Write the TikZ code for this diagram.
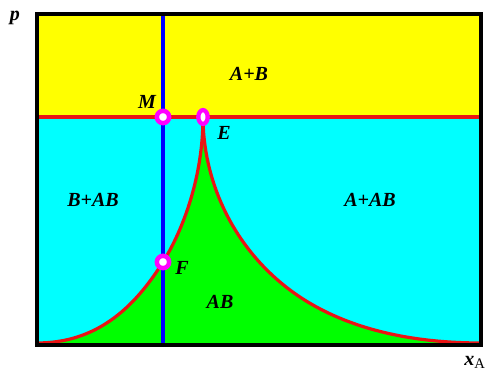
\documentclass[tikz,border=0pt]{standalone}
\usepackage{fontspec}
\setmainfont{Liberation Serif}
\usetikzlibrary{shapes.geometric}
\definecolor{yel}{RGB}{255,255,0}
\definecolor{cyn}{RGB}{0,255,255}
\definecolor{grn}{RGB}{0,255,0}
\definecolor{rd}{RGB}{235,20,20}
\definecolor{bl}{RGB}{0,0,255}
\definecolor{mag}{RGB}{255,0,255}
\tikzset{
  phase/.style={font=\fontsize{15}{16}\selectfont\bfseries\itshape, inner sep=1pt},
  ptlbl/.style={font=\fontsize{15}{16}\selectfont\bfseries\itshape, inner sep=1pt},
  pt/.style={circle, draw=mag, line width=3.4pt, fill=white, minimum size=9.2pt, inner sep=0pt},
  ptE/.style={ellipse, draw=mag, line width=3.2pt, fill=white, minimum width=7pt, minimum height=10.4pt, inner sep=0pt},
  liq/.style={rd, line width=2.4pt},
  iso/.style={bl, line width=3.5pt},
}

\begin{document}
\begin{tikzpicture}[x=0.75pt, y=-0.75pt]
\useasboundingbox (0,0) rectangle (487,373);

% ================= REGIONS =================
\fill[yel] (37,14) rectangle (481,117);
\fill[cyn] (37,117) rectangle (481,345);
\fill[grn] (37,343) .. controls (95,343) and (133,310) .. (163,262)
  .. controls (183,230) and (203,177) .. (203,117)
  .. controls (203,177) and (230,245) .. (290,290)
  .. controls (330,320) and (391,343) .. (481,343)
  -- (481,345) -- (37,345) -- cycle;

% ================= LINES =================
\draw[liq] (37,343) .. controls (95,343) and (133,310) .. (163,262)
  .. controls (183,230) and (203,177) .. (203,117);
\draw[liq] (203,117) .. controls (203,177) and (230,245) .. (290,290)
  .. controls (330,320) and (391,343) .. (481,343);
\draw[liq] (37,117) -- (481,117);
\coordinate (top) at (163,14);
\coordinate (bot) at (163,345);
\draw[iso] (top) -- (bot);
\draw[black, line width=2.4pt] (37,14) rectangle (481,345);

% ================= POINTS =================
\node[pt]  (M) at (163,117) {};
\node[ptE] (E) at (203,117) {};
\node[pt]  (F) at (163,262) {};

\node[ptlbl] at (147,102) {M};
\node[ptlbl] at (224,133) {E};
\node[ptlbl] at (182,268) {F};

% ================= LABELS =================
\node[phase] at (249,74)  {A+B};
\node[phase] at (93,200)  {B+AB};
\node[phase] at (370,200) {A+AB};
\node[phase] at (220,302) {AB};
\node[ptlbl] at (15,18) {p};
\node[ptlbl] at (475,362) {x\textsubscript{\normalfont\fontsize{11}{12}\selectfont A}};

\end{tikzpicture}
\end{document}
